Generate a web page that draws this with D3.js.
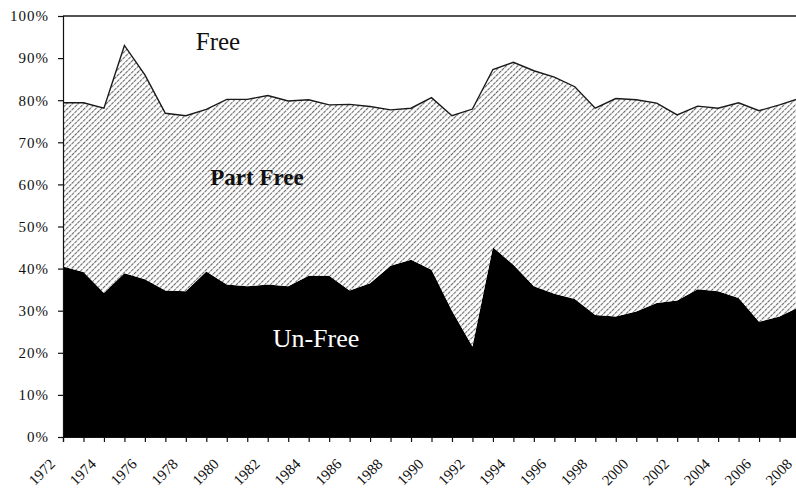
<!DOCTYPE html>
<html>
<head>
<meta charset="utf-8">
<script src="https://cdn.jsdelivr.net/npm/d3@7"></script>
<style>
  html, body { margin: 0; padding: 0; background: #fff; }
  svg { display: block; }
  text { font-family: "Liberation Serif", "DejaVu Serif", serif; }
</style>
</head>
<body>
<svg id="chart" width="796" height="488"></svg>
<script>
// Share of countries by status, percent of total
const years = d3.range(1972, 2009);
const unFree = [40.5, 39.2, 34.2, 38.9, 37.5, 34.8, 34.6, 39.3, 36.2, 35.8, 36.2, 35.8,
    38.3, 38.3, 34.8, 36.5, 40.7, 42.1, 39.7, 30.0, 21.5, 45.1, 40.9, 35.8,
    34.0, 32.8, 29.0, 28.6, 29.8, 31.8, 32.4, 35.1, 34.6, 33.0, 27.4, 28.6, 31.0];
const partFree = [38.9, 40.2, 43.9, 54.1, 48.5, 42.1, 41.7, 38.5, 44.0, 44.4, 44.9, 44.0,
    41.8, 40.6, 44.2, 42.0, 37.0, 36.0, 40.9, 46.3, 56.4, 42.2, 48.1, 51.2,
    51.5, 50.4, 49.1, 51.8, 50.3, 47.5, 44.1, 43.5, 43.5, 46.4, 50.1, 50.3, 49.5];
const free = [20.6, 20.6, 21.9, 7.0, 14.0, 23.1, 23.7, 22.2, 19.8, 19.8, 18.9, 20.2,
    19.9, 21.1, 21.0, 21.5, 22.3, 21.9, 19.4, 23.7, 22.1, 12.7, 11.0, 13.0,
    14.5, 16.8, 21.9, 19.6, 19.9, 20.7, 23.5, 21.4, 21.9, 20.6, 22.5, 21.1, 19.5];
const yTicks = [0, 10, 20, 30, 40, 50, 60, 70, 80, 90, 100];
const labelYears = d3.range(1972, 2009, 2);

const svg = d3.select('#chart');
const plotLeft = 63, plotRight = 800, plotTop = 16, plotBottom = 437;

const x = d3.scaleLinear().domain([1972, 2008]).range([plotLeft, plotRight]);
const y = d3.scaleLinear().domain([0, 100]).range([plotBottom, plotTop]);

// hatch fill for the "Part Free" band
const defs = svg.append('defs');
const hatch = defs.append('pattern')
    .attr('id', 'hatch')
    .attr('patternUnits', 'userSpaceOnUse')
    .attr('width', 4)
    .attr('height', 4)
    .attr('patternTransform', 'rotate(45)');
hatch.append('rect').attr('width', 4).attr('height', 4).attr('fill', '#fff');
hatch.append('line')
    .attr('x1', 0.5).attr('y1', 0).attr('x2', 0.5).attr('y2', 4)
    .attr('stroke', '#6a6a6a')
    .attr('stroke-width', 1.2)
    .attr('stroke-dasharray', '3.2,0.8');

const table = years.map((yr, i) => ({
    year: yr, unFree: unFree[i], partFree: partFree[i], free: free[i]
}));
const stacked = d3.stack().keys(['unFree', 'partFree', 'free'])(table);

const area = d3.area()
    .x(d => x(d.data.year))
    .y0(d => y(d[0]))
    .y1(d => y(d[1]));

const fills = { unFree: '#000', partFree: 'url(#hatch)', free: '#fff' };

svg.append('g').selectAll('path')
    .data(stacked)
    .join('path')
    .attr('d', area)
    .attr('fill', s => fills[s.key]);

// dark edge along the top of the Part Free band, and along 100%
const edge = d3.line()
    .x(d => x(d.data.year))
    .y(d => y(d[1]));
svg.append('path')
    .attr('d', edge(stacked[1]))
    .attr('fill', 'none')
    .attr('stroke', '#1a1a1a')
    .attr('stroke-width', 1.4);
svg.append('path')
    .attr('d', edge(stacked[2]))
    .attr('fill', 'none')
    .attr('stroke', '#1a1a1a')
    .attr('stroke-width', 1.4);

// y axis
const yAxis = svg.append('g')
    .attr('transform', `translate(${plotLeft},0)`)
    .call(d3.axisLeft(y).tickValues(yTicks).tickSize(5).tickPadding(9).tickFormat(d => d + '%'));
yAxis.select('.domain').attr('stroke', '#111').attr('stroke-width', 1.2);
yAxis.selectAll('.tick line').attr('stroke', '#111').attr('stroke-width', 1.2);
yAxis.selectAll('text')
    .attr('font-size', 15)
    .attr('letter-spacing', 1)
    .attr('fill', '#111')
    .style('font-family', '"Liberation Serif", serif');

// x axis
const xAxis = svg.append('g')
    .attr('transform', `translate(0,${plotBottom})`)
    .call(d3.axisBottom(x).tickValues(years).tickSize(5).tickFormat(''));
xAxis.select('.domain').attr('stroke', '#111').attr('stroke-width', 1.2);
xAxis.selectAll('.tick line').attr('stroke', '#111').attr('stroke-width', 1.2);

svg.append('g').selectAll('text')
    .data(labelYears)
    .join('text')
    .attr('transform', d => `translate(${x(d) - 7},${plotBottom + 28}) rotate(-45)`)
    .attr('text-anchor', 'end')
    .attr('font-size', 15)
    .attr('fill', '#111')
    .text(d => d);

// series labels
svg.append('text')
    .attr('x', 218).attr('y', 50)
    .attr('text-anchor', 'middle')
    .attr('font-size', 25)
    .attr('fill', '#111')
    .text('Free');
svg.append('text')
    .attr('x', 257).attr('y', 185)
    .attr('text-anchor', 'middle')
    .attr('font-size', 23)
    .attr('font-weight', 'bold')
    .attr('fill', '#111')
    .text('Part Free');
svg.append('text')
    .attr('x', 316).attr('y', 347)
    .attr('text-anchor', 'middle')
    .attr('font-size', 26)
    .attr('fill', '#fff')
    .text('Un-Free');
</script>
</body>
</html>
